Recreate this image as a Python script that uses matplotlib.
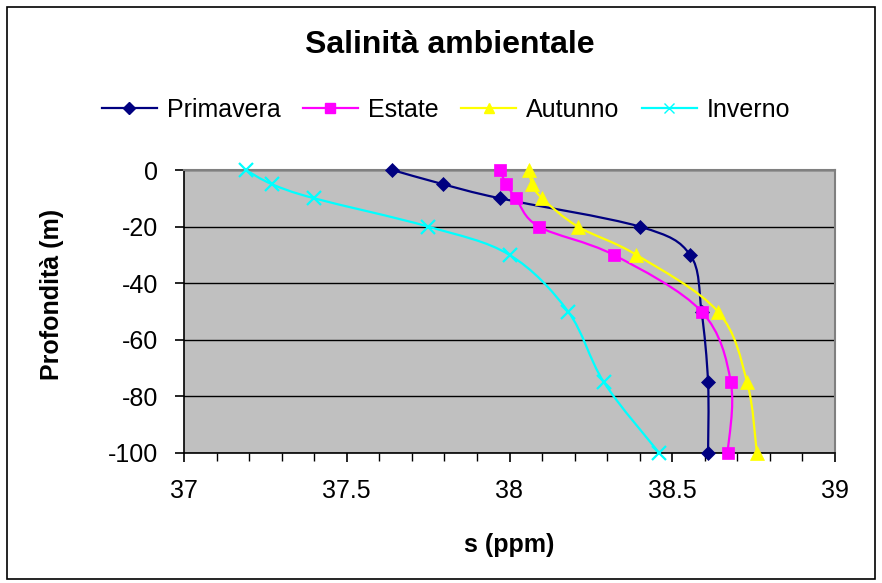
import numpy as np
import matplotlib.pyplot as plt
from matplotlib.path import Path
from matplotlib.patches import PathPatch, Rectangle
from matplotlib.ticker import MultipleLocator

plt.rcParams['font.family'] = ['Liberation Sans', 'DejaVu Sans']
plt.rcParams['axes.unicode_minus'] = False

# depth (m) for each season
depth_prim = [0, -5, -10, -20, -30, -50, -75, -100]
depth_est = [0, -5, -10, -20, -30, -50, -75, -100]
depth_aut = [0, -5, -10, -20, -30, -50, -75, -100]
depth_inv = [0, -5, -10, -20, -30, -50, -75, -100]

# salinity (ppm)
sal_prim = [37.64, 37.795, 37.97, 38.40, 38.555, 38.59, 38.61, 38.61]
sal_est = [37.97, 37.99, 38.02, 38.09, 38.32, 38.59, 38.68, 38.67]
sal_aut = [38.06, 38.07, 38.10, 38.21, 38.39, 38.64, 38.73, 38.76]
sal_inv = [37.19, 37.27, 37.40, 37.75, 38.00, 38.18, 38.29, 38.46]

labels = ['Primavera', 'Estate', 'Autunno', 'Inverno']
colors = ['#000080', '#FF00FF', '#FFFF00', '#00FFFF']
markers = ['D', 's', '^', 'x']
msizes = [7.5, 8.5, 9.5, 9.5]


def smooth_path(xs, ys):
    # cubic bezier through the points (catmull-rom style, like excel smoothing)
    p = np.column_stack([xs, ys]).astype(float)
    verts = [p[0]]
    codes = [Path.MOVETO]
    n = len(p)
    for i in range(n - 1):
        p0 = p[i - 1] if i > 0 else p[i]
        p3 = p[i + 2] if i + 2 < n else p[i + 1]
        c1 = p[i] + (p[i + 1] - p0) / 6.0
        c2 = p[i + 1] - (p3 - p[i]) / 6.0
        verts += [c1, c2, p[i + 1]]
        codes += [Path.CURVE4] * 3
    return Path(verts, codes)


fig = plt.figure(figsize=(8.82, 5.83), dpi=100)
ax = fig.add_axes([184 / 882, 1 - 453 / 583, (835 - 184) / 882, (453 - 170) / 583])
ax.set_facecolor('#C0C0C0')

series = [(sal_prim, depth_prim), (sal_est, depth_est),
          (sal_aut, depth_aut), (sal_inv, depth_inv)]
for (xs, ys), lab, c, m, ms in zip(series, labels, colors, markers, msizes):
    ax.add_patch(PathPatch(smooth_path(xs, ys), fill=False, edgecolor=c, lw=1.6, zorder=3))
    ax.plot(xs, ys, linestyle='none', marker=m, color=c, markersize=ms,
            markeredgewidth=1.6 if m == 'x' else 0.5, zorder=4, clip_on=False)
    ax.plot([], [], color=c, marker=m, markersize=ms * 0.8, lw=1.6, label=lab)

ax.set_xlim(37, 39)
ax.set_ylim(-100, 0)
ax.xaxis.set_major_locator(MultipleLocator(0.5))
ax.xaxis.set_minor_locator(MultipleLocator(0.1))
ax.yaxis.set_major_locator(MultipleLocator(20))
ax.xaxis.set_major_formatter(plt.FuncFormatter(lambda v, p: ('%g' % v)))
ax.tick_params(axis='both', which='major', direction='out', length=6.5, width=1.2,
               labelsize=18, pad=12)
ax.tick_params(axis='x', which='minor', direction='out', length=5.5, width=1.0)
ax.grid(axis='y', color='black', lw=1.0)
ax.set_axisbelow(True)

for s in ['top', 'right']:
    ax.spines[s].set_color('#808080')
    ax.spines[s].set_linewidth(1.5)
for s in ['left', 'bottom']:
    ax.spines[s].set_color('black')
    ax.spines[s].set_linewidth(1.2)

ax.set_xlabel('s (ppm)', fontsize=18, fontweight='bold')
ax.set_ylabel('Profondità (m)', fontsize=18, fontweight='bold')
ax.xaxis.set_label_coords(0.5, (453 - 545) / 283)
ax.xaxis.label.set_va('center')
ax.yaxis.set_label_coords((52 - 184) / 651, 0.56)
ax.yaxis.label.set_va('center')

fig.text(450 / 882, 1 - 45 / 583, 'Salinità ambientale', fontsize=23,
         fontweight='bold', ha='center', va='center')
fig.legend(loc='center', bbox_to_anchor=(446 / 882, 1 - 110 / 583), ncol=4,
           frameon=False, fontsize=18, handlelength=2.2, columnspacing=0.9,
           handletextpad=0.4)

fig.patches.append(Rectangle((7 / 882, 4 / 583), 868 / 882, 572 / 583,
                             transform=fig.transFigure, fill=False,
                             edgecolor='black', lw=1.2))

fig.savefig('out.png', dpi=100)
